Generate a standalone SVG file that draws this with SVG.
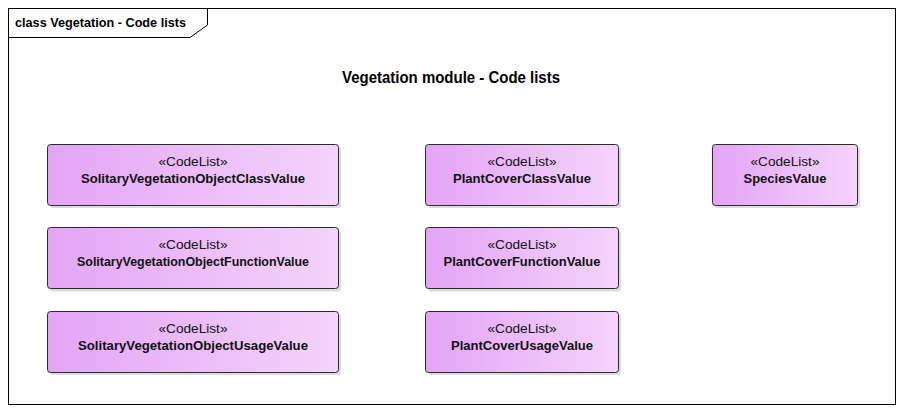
<svg xmlns="http://www.w3.org/2000/svg" width="904" height="413" viewBox="0 0 904 413">
<defs>
<linearGradient id="g" x1="0" y1="0" x2="1" y2="0">
<stop offset="0" stop-color="#E4A4F6"/>
<stop offset="1" stop-color="#F4D4FC"/>
</linearGradient>
<style>
.box{fill:url(#g);stroke:#2a2a2a;stroke-width:1}
.sh{fill:#cfcfcf;opacity:0.7}
.st{font-family:"Liberation Sans",Arial,sans-serif;font-size:13px;fill:#111;text-anchor:middle}
.nm{font-family:"Liberation Sans",Arial,sans-serif;font-size:12.5px;font-weight:bold;fill:#111;text-anchor:middle}
</style>
</defs>
<rect width="904" height="413" fill="#fff"/>
<g id="frame">
<rect x="8.5" y="8.5" width="887" height="396" fill="none" stroke="#000" stroke-width="1"/>
<path d="M8.5 37.5 H190 L207.5 25 V8.5" fill="none" stroke="#000" stroke-width="1"/>
<text x="15" y="27" font-family="'Liberation Sans',Arial,sans-serif" font-size="13" font-weight="bold" textLength="171" lengthAdjust="spacingAndGlyphs">class Vegetation - Code lists</text>
</g>
<text x="451" y="83" text-anchor="middle" font-family="'Liberation Sans',Arial,sans-serif" font-size="17" font-weight="bold" textLength="218" lengthAdjust="spacingAndGlyphs">Vegetation module - Code lists</text>
<g id="connectors"></g>
<g id="n1">
<rect class="sh" x="50" y="147" width="291" height="61" rx="3"/>
<rect class="box" x="47.5" y="144.5" width="291" height="61" rx="3"/>
<text class="st" x="193" y="166" textLength="69" lengthAdjust="spacingAndGlyphs">«CodeList»</text>
<text class="nm" x="193" y="183" textLength="224" lengthAdjust="spacingAndGlyphs">SolitaryVegetationObjectClassValue</text>
</g>
<g id="n2">
<rect class="sh" x="50" y="230.5" width="291" height="61" rx="3"/>
<rect class="box" x="47.5" y="227.5" width="291" height="61" rx="3"/>
<text class="st" x="193" y="249" textLength="69" lengthAdjust="spacingAndGlyphs">«CodeList»</text>
<text class="nm" x="193" y="266" textLength="232" lengthAdjust="spacingAndGlyphs">SolitaryVegetationObjectFunctionValue</text>
</g>
<g id="n3">
<rect class="sh" x="50" y="314" width="291" height="61" rx="3"/>
<rect class="box" x="47.5" y="311.5" width="291" height="61" rx="3"/>
<text class="st" x="193" y="333" textLength="69" lengthAdjust="spacingAndGlyphs">«CodeList»</text>
<text class="nm" x="193" y="350" textLength="230" lengthAdjust="spacingAndGlyphs">SolitaryVegetationObjectUsageValue</text>
</g>
<g id="n4">
<rect class="sh" x="428" y="147" width="193" height="61" rx="3"/>
<rect class="box" x="425.5" y="144.5" width="193" height="61" rx="3"/>
<text class="st" x="522" y="166" textLength="69" lengthAdjust="spacingAndGlyphs">«CodeList»</text>
<text class="nm" x="522" y="183" textLength="138" lengthAdjust="spacingAndGlyphs">PlantCoverClassValue</text>
</g>
<g id="n5">
<rect class="sh" x="428" y="230.5" width="193" height="61" rx="3"/>
<rect class="box" x="425.5" y="227.5" width="193" height="61" rx="3"/>
<text class="st" x="522" y="249" textLength="69" lengthAdjust="spacingAndGlyphs">«CodeList»</text>
<text class="nm" x="522" y="266" textLength="157" lengthAdjust="spacingAndGlyphs">PlantCoverFunctionValue</text>
</g>
<g id="n6">
<rect class="sh" x="428" y="314" width="193" height="61" rx="3"/>
<rect class="box" x="425.5" y="311.5" width="193" height="61" rx="3"/>
<text class="st" x="522" y="333" textLength="69" lengthAdjust="spacingAndGlyphs">«CodeList»</text>
<text class="nm" x="522" y="350" textLength="142" lengthAdjust="spacingAndGlyphs">PlantCoverUsageValue</text>
</g>
<g id="n7">
<rect class="sh" x="715" y="147" width="145" height="61" rx="3"/>
<rect class="box" x="712.5" y="144.5" width="145" height="61" rx="3"/>
<text class="st" x="785" y="166" textLength="69" lengthAdjust="spacingAndGlyphs">«CodeList»</text>
<text class="nm" x="785" y="183" textLength="83" lengthAdjust="spacingAndGlyphs">SpeciesValue</text>
</g>
</svg>
